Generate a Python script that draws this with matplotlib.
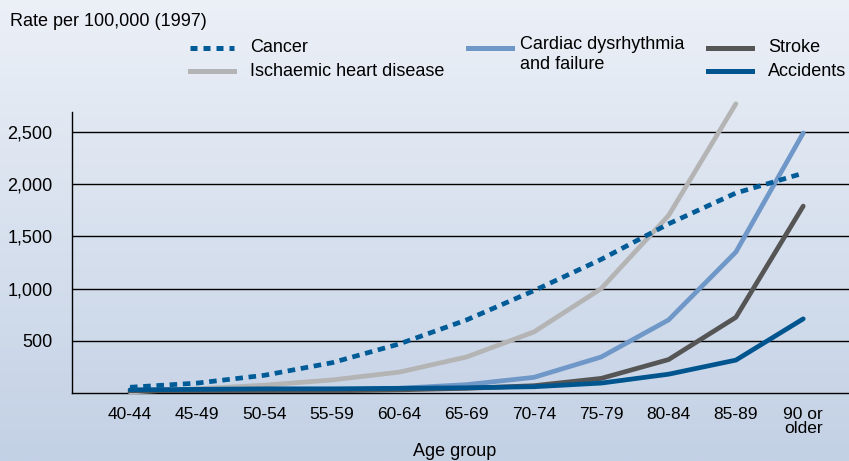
import numpy as np
import matplotlib
matplotlib.use("Agg")
import matplotlib.pyplot as plt
from matplotlib.lines import Line2D

# ── Data ──────────────────────────────────────────────────────────────────────
age_groups = ["40-44", "45-49", "50-54", "55-59", "60-64", "65-69",
              "70-74", "75-79", "80-84", "85-89", "90 or\nolder"]
cancer     = [55, 95, 170, 290, 470, 700, 980, 1280, 1620, 1915, 2105]
ischaemic  = [10, 40, 75, 125, 200, 345, 585, 1000, 1700, 2770]
cardiac    = [5, 10, 15, 25, 45, 80, 150, 345, 700, 1350, 2490]
stroke     = [5, 10, 15, 20, 30, 45, 70, 140, 320, 725, 1790]
accidents  = [30, 35, 40, 40, 45, 50, 60, 95, 180, 315, 710]
y_ticks    = [500, 1000, 1500, 2000, 2500]

C_CANCER = "#005b97"
C_ISCH   = "#b4b4b4"
C_CARD   = "#6f97c7"
C_STROKE = "#555555"
C_ACC    = "#00558f"

plt.rcParams["font.family"] = ["Liberation Sans", "DejaVu Sans"]

W, H = 849, 461
fig = plt.figure(figsize=(W / 100, H / 100), dpi=100)

# ── Background gradient ───────────────────────────────────────────────────────
bg = fig.add_axes([0, 0, 1, 1], zorder=-10)
grad = np.linspace(0, 1, 256).reshape(-1, 1)
top = np.array([0xec, 0xf0, 0xf7]) / 255
bot = np.array([0xc3, 0xd1, 0xe5]) / 255
img = top + (bot - top) * grad[..., None]
bg.imshow(img, aspect="auto", extent=[0, 1, 0, 1])
bg.set_axis_off()

# ── Main axes ─────────────────────────────────────────────────────────────────
ax = fig.add_axes([72 / W, 1 - 393 / H, 1 - 72 / W, (393 - 112) / H])
ax.patch.set_alpha(0)
x = np.arange(len(age_groups))
lw = 3.4

for v in y_ticks:
    ax.axhline(v, color="black", lw=1.0, zorder=1)

ax.plot(x[:len(ischaemic)], ischaemic, color=C_ISCH, lw=lw, clip_on=False,
        solid_capstyle="round", zorder=3)
ax.plot(x, cardiac, color=C_CARD, lw=lw, solid_capstyle="round", zorder=4)
ax.plot(x, stroke, color=C_STROKE, lw=lw, solid_capstyle="round", zorder=5)
ax.plot(x, accidents, color=C_ACC, lw=lw, solid_capstyle="round", zorder=6)
ax.plot(x, cancer, color=C_CANCER, lw=lw, dashes=(1.6, 1.2), zorder=7)

ax.set_xlim(-0.862, 10.68)
ax.set_ylim(0, 2691)
ax.set_yticks(y_ticks)
ax.set_yticklabels([f"{v:,}" for v in y_ticks], fontsize=13)
ax.set_xticks(x)
ax.set_xticklabels(age_groups, fontsize=12.5, linespacing=0.95)
ax.tick_params(axis="y", length=0, pad=14)
ax.tick_params(axis="x", length=0, pad=10)
for s in ["top", "right"]:
    ax.spines[s].set_visible(False)
ax.spines["left"].set_linewidth(1.0)
ax.spines["bottom"].set_linewidth(1.0)

fig.text(455 / W, 1 - 451 / H, "Age group", fontsize=13, ha="center",
         va="center")

# ── Titles and legend ─────────────────────────────────────────────────────────
fig.text(10 / W, 1 - 21 / H, "Rate per 100,000 (1997)", fontsize=13,
         va="center", ha="left")

legend_items = [
    ("Cancer", C_CANCER, True, 190, 48),
    ("Ischaemic heart disease", C_ISCH, False, 190, 71),
    ("Cardiac dysrhythmia\nand failure", C_CARD, False, 468, 48),
    ("Stroke", C_STROKE, False, 708, 48),
    ("Accidents", C_ACC, False, 708, 71),
]
for label, col, dashed, px, py in legend_items:
    yy = 1 - py / H
    kw = dict(dashes=(1.4, 1.2)) if dashed else {}
    fig.add_artist(Line2D([px / W, (px + 44) / W], [yy, yy], color=col,
                          lw=3.6, transform=fig.transFigure, **kw))
    if "\n" in label:
        fig.text((px + 52) / W, yy + 12 / H, label, fontsize=13, va="top",
                 ha="left", linespacing=1.25)
    else:
        fig.text((px + 60) / W, yy, label, fontsize=13, va="center", ha="left")

fig.savefig("out.png", dpi=100)
